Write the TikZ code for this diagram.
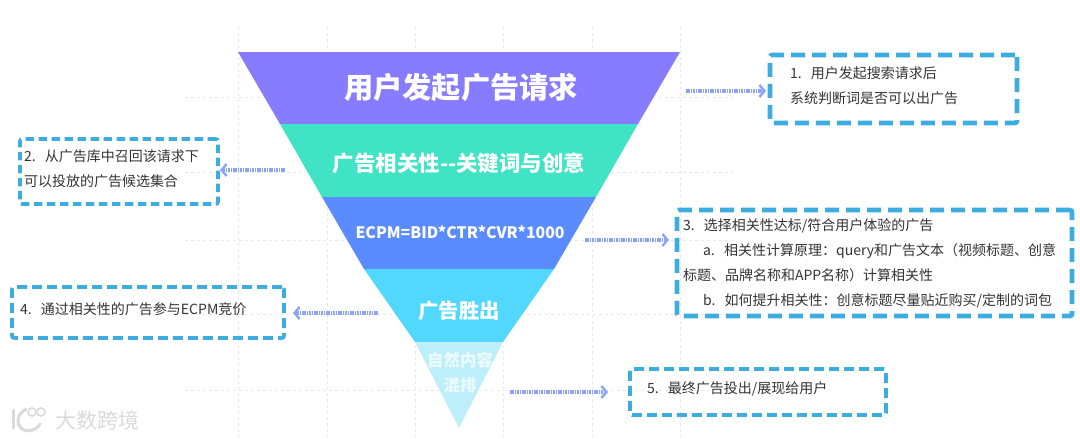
\documentclass[tikz,border=0pt]{standalone}
\usepackage{fontspec}
\setmainfont{Noto Sans CJK SC}
\usetikzlibrary{arrows.meta}
\definecolor{boxblue}{HTML}{3DADE0}
\definecolor{arrowblue}{HTML}{8BA3FF}
\definecolor{gridgrey}{HTML}{E9E9E9}
\definecolor{layA}{HTML}{877CFF}
\definecolor{layB}{HTML}{40E3C4}
\definecolor{layC}{HTML}{5B8CFF}
\definecolor{layD}{HTML}{52D8FF}
\definecolor{layE}{HTML}{BDEFFB}
\definecolor{txt}{HTML}{333333}
\definecolor{wm}{HTML}{DADADA}
\newcommand{\liftnote}{\par\vspace*{6pt}}
\tikzset{
  notebox/.style={draw=boxblue,rounded corners=2pt,
    anchor=north west,inner ysep=0pt,outer sep=0pt,align=left,text=txt,
    font=\fontsize{14}{25}\selectfont},
  widedash/.style={line width=4.6pt,dash pattern=on 14pt off 7pt},
  middash/.style={line width=3.6pt,dash pattern=on 10pt off 5pt},
  finedash/.style={line width=3.6pt,dash pattern=on 8.5pt off 4.5pt},
  flow/.style={draw=arrowblue,line width=4pt,dash pattern=on 1.6pt off 0.8pt,
    -{Straight Barb[length=5pt,width=12pt,line width=2.4pt]}},
  gridline/.style={draw=gridgrey,line width=0.7pt,dash pattern=on 3pt off 3pt},
  laylabel/.style={text=white,font=\bfseries},
}
\begin{document}
\begin{tikzpicture}[x=1pt,y=-1pt]
\useasboundingbox (0,0) rectangle (1080,439);
% grid
\foreach \gx in {238,327,415,503,592,680}{\draw[gridline] (\gx,27) -- (\gx,439);}
\foreach \gy in {97,172,240,314,390}{\draw[gridline] (185,\gy) -- (735,\gy);}
% funnel
\fill[layA] (238,52) -- (680,52) -- (638,124) -- (280,124) -- cycle;
\fill[layB] (280,124) -- (638,124) -- (596,197) -- (322,197) -- cycle;
\fill[layC] (322,197) -- (596,197) -- (554,269) -- (364,269) -- cycle;
\fill[layD] (364,269) -- (554,269) -- (503,342) -- (415,342) -- cycle;
\fill[layE] (415,342) -- (503,342) -- (459,428) -- cycle;
\node[laylabel,font=\bfseries\fontsize{29.2}{32}\selectfont] (lA) at (461,88) {用户发起广告请求};
\node[laylabel,font=\bfseries\fontsize{21.5}{24}\selectfont] (lB) at (459,163) {广告相关性-{}-关键词与创意};
\node[laylabel,font=\bfseries\fontsize{15.8}{20}\selectfont] (lC) at (460,232) {ECPM=BID*CTR*CVR*1000};
\node[laylabel,font=\bfseries\fontsize{20.4}{24}\selectfont] (lD) at (459,311) {广告胜出};
\node[laylabel,text=white!75!layE,align=center,font=\bfseries\fontsize{16.4}{25}\selectfont] (lE) at (460,373) {自然内容\\混排};
% boxes
\node[notebox,widedash,text width=207pt,minimum height=68pt,inner xsep=20pt] (b1) at (770,55)
  {1.\ \ 用户发起搜索请求后\\系统判断词是否可以出广告\liftnote};
\node[notebox,finedash,text width=190pt,minimum height=65pt,inner xsep=4pt] (b2) at (20,139)
  {2.\ \ 从广告库中召回该请求下\\可以投放的广告候选集合\liftnote};
\node[notebox,widedash,text width=383pt,minimum height=106pt,inner xsep=6pt] (b3) at (677,210)
  {3.\ \ 选择相关性达标/符合用户体验的广告\\
   \hspace*{20pt}a.\ \ 相关性计算原理：query和广告文本（视频标题、创意\\
   标题、品牌名称和APP名称）计算相关性\\
   \hspace*{20pt}b.\ \ 如何提升相关性：创意标题尽量贴近购买/定制的词包};
\node[notebox,middash,text width=256pt,minimum height=51pt,inner xsep=8pt] (b4) at (12,287)
  {4.\ \ 通过相关性的广告参与ECPM竞价\liftnote};
\node[notebox,middash,text width=222pt,minimum height=46pt,inner xsep=17pt] (b5) at (630,369)
  {5.\ \ 最终广告投出/展现给用户\liftnote};
% connectors
\coordinate (s1) at (686,91);  \coordinate (e1) at (766,91);
\coordinate (s2) at (285,170); \coordinate (e2) at (220,170);
\coordinate (s3) at (585,240); \coordinate (e3) at (669,240);
\coordinate (s4) at (378,313); \coordinate (e4) at (293,313);
\coordinate (s5) at (510,392); \coordinate (e5) at (608,392);
\draw[flow] (s1) -- (e1);
\draw[flow] (s2) -- (e2);
\draw[flow] (s3) -- (e3);
\draw[flow] (s4) -- (e4);
\draw[flow] (s5) -- (e5);
% watermark
\node[text=wm,anchor=west,font=\fontsize{21}{24}\selectfont] (wmk) at (52,420) {大数跨境};
\draw[wm,line width=3pt,line cap=round] (13,410) -- (13,428);
\draw[wm,line width=3pt,line cap=round] (26,409) .. controls (17,414) and (16,424) .. (21,428);
\draw[wm,line width=3pt,line cap=round] (21,428) .. controls (26,433) and (36,431) .. (40,424);
\draw[wm,line width=1.6pt] (32,412) circle (4pt);
\draw[wm,line width=1.6pt] (41,412) circle (4pt);
\end{tikzpicture}
\end{document}
